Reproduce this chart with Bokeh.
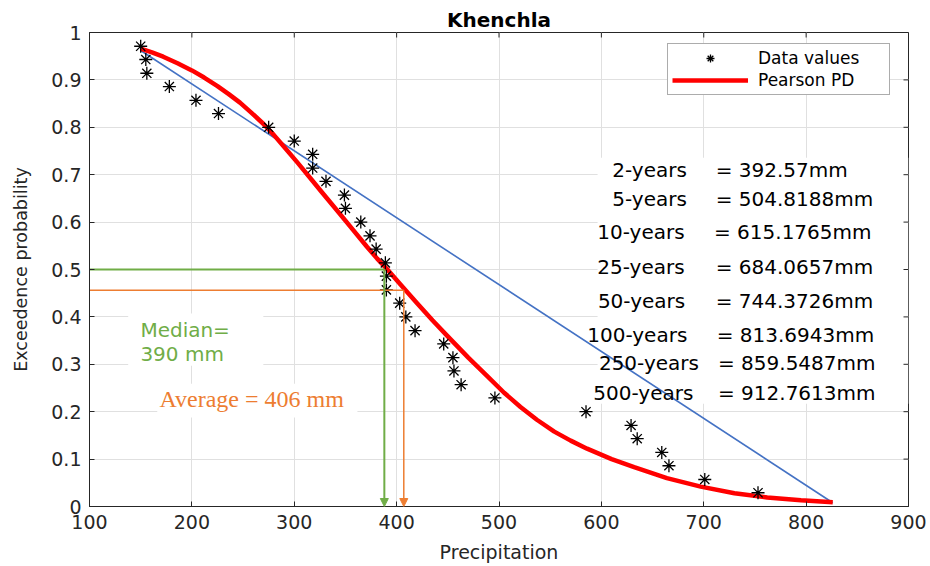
from bokeh.plotting import figure
from bokeh.models import (Label, Legend, LegendItem, FixedTicker,
                          CustomJSTickFormatter, Arrow, NormalHead, BoxAnnotation, Range1d)
from bokeh.embed import file_html
from bokeh.resources import INLINE

# ---------------- data ----------------
precip = [150, 155, 156, 178, 204, 226, 275, 300, 318, 318, 331, 349, 350, 365,
          374, 380, 389, 390, 390, 403, 409, 418, 446, 455, 456, 463, 496, 585,
          629, 635, 659, 666, 701, 753]
exceed = [0.971, 0.943, 0.914, 0.886, 0.857, 0.829, 0.800, 0.771, 0.743, 0.714,
          0.686, 0.657, 0.629, 0.600, 0.571, 0.543, 0.514, 0.486, 0.457, 0.429,
          0.400, 0.371, 0.343, 0.314, 0.286, 0.257, 0.229, 0.200, 0.171, 0.143,
          0.114, 0.086, 0.057, 0.029]

pearson_x = [150, 161, 172, 186, 200, 212, 225, 236, 247, 258, 270, 280, 290, 303,
             316, 327, 339, 355, 371, 381, 391, 404, 420, 435, 449, 470, 489, 505,
             521, 537, 554, 570, 586, 610, 632, 664, 697, 730, 762, 795, 826]
pearson_p = [0.966, 0.958, 0.949, 0.935, 0.920, 0.905, 0.887, 0.870, 0.852, 0.831,
             0.807, 0.784, 0.759, 0.726, 0.692, 0.663, 0.632, 0.590, 0.548, 0.523,
             0.500, 0.468, 0.429, 0.393, 0.361, 0.314, 0.274, 0.240, 0.210, 0.183,
             0.158, 0.139, 0.122, 0.100, 0.083, 0.060, 0.042, 0.028, 0.019, 0.013,
             0.009]

trend_x = [150, 826]
trend_p = [0.962, 0.008]

median_x, median_p = 388, 0.5
average_x, average_p = 407, 0.456

x_ticks = [100, 200, 300, 400, 500, 600, 700, 800, 900]
y_ticks = [0, 0.1, 0.2, 0.3, 0.4, 0.5, 0.6, 0.7, 0.8, 0.9, 1]

return_names = ["2-years", "5-years", "10-years", "25-years", "50-years",
                "100-years", "250-years", "500-years"]
return_values = ["= 392.57mm", "= 504.8188mm", "= 615.1765mm", "= 684.0657mm",
                 "= 744.3726mm", "= 813.6943mm", "= 859.5487mm", "= 912.7613mm"]

# ---------------- layout / styles ----------------
name_left = [610.6, 610.6, 596.0, 596.0, 596.6, 586.2, 597.6, 592.1]
value_left = [711.6, 711.6, 710.0, 711.6, 711.6, 712.6, 713.9, 713.9]
row_y = [0.709, 0.649, 0.579, 0.505, 0.4325, 0.362, 0.302, 0.239]

DARK = "#262626"
GREEN = "#70AD47"
ORANGE = "#ED7D31"
BLUE = "#4472C4"
FONT = "DejaVu Sans"

p = figure(width=930, height=566, x_range=Range1d(100, 900), y_range=Range1d(0, 1),
           output_backend="svg", toolbar_location=None,
           min_border_left=89, min_border_right=22, min_border_top=32, min_border_bottom=60,
           background_fill_color="white", border_fill_color="white")
p.outline_line_color = DARK

p.title.text = "Khenchla"
p.title.align = "center"
p.title.text_font = FONT
p.title.text_font_size = "20px"
p.title.text_font_style = "bold"
p.title.text_color = "black"
p.title.standoff = 2

# axes
for ax in (p.xaxis[0], p.yaxis[0]):
    ax.major_tick_in = 5
    ax.major_tick_out = 0
    ax.minor_tick_line_color = None
    ax.axis_line_color = DARK
    ax.major_tick_line_color = DARK
    ax.major_label_text_font = FONT
    ax.major_label_text_font_size = "19px"
    ax.major_label_text_color = DARK
    ax.axis_label_text_font = FONT
    ax.axis_label_text_font_style = "normal"
    ax.axis_label_text_color = DARK

p.xaxis.ticker = FixedTicker(ticks=x_ticks)
p.xaxis.axis_label = "Precipitation"
p.xaxis.axis_label_text_font_size = "19px"
p.xaxis.major_label_standoff = 8
p.xaxis.axis_label_standoff = 9

p.yaxis.ticker = FixedTicker(ticks=y_ticks)
p.yaxis.formatter = CustomJSTickFormatter(code="return String(Math.round(tick*10)/10)")
p.yaxis.axis_label = "Exceedence probability"
p.yaxis.axis_label_text_font_size = "17.5px"
p.yaxis.major_label_standoff = 8
p.yaxis.axis_label_standoff = 17

p.xgrid.ticker = FixedTicker(ticks=x_ticks)
p.ygrid.ticker = FixedTicker(ticks=y_ticks)
for g in (p.xgrid[0], p.ygrid[0]):
    g.grid_line_color = "#e0e0e0"
    g.grid_line_width = 1

# inward ticks on the top and right edges of the box
tick_len_y = 5 / 474
tick_len_x = 5 * 800 / 819
p.segment(x0=x_ticks, y0=[1] * len(x_ticks), x1=x_ticks, y1=[1 - tick_len_y] * len(x_ticks),
          line_color=DARK, line_width=1)
p.segment(x0=[900] * len(y_ticks), y0=y_ticks, x1=[900 - tick_len_x] * len(y_ticks), y1=y_ticks,
          line_color=DARK, line_width=1)

# white backgrounds behind the text blocks (cover the grid only)
for (l, r, b, t) in [(137.8, 269.8, 0.297, 0.407), (166.2, 361.7, 0.188, 0.259),
                     (596.3, 900, 0.217, 0.736)]:
    p.add_layout(BoxAnnotation(left=l, right=r, bottom=b, top=t, fill_color="white",
                               fill_alpha=1, line_color=None, level="underlay"))

# lines and points
p.line(trend_x, trend_p, line_color=BLUE, line_width=1.6)
red = p.line(pearson_x, pearson_p, line_color="#ff0000", line_width=4.5, line_join="round")
pts = p.scatter(precip, exceed, marker="asterisk", size=13, line_color="black",
                line_width=1.3)

# median / average guides
p.line([100, median_x], [median_p, median_p], line_color=GREEN, line_width=2)
p.line([100, average_x], [average_p, average_p], line_color=ORANGE, line_width=1.5)
p.add_layout(Arrow(end=NormalHead(size=8, fill_color=GREEN, line_color=GREEN),
                   x_start=median_x, y_start=median_p, x_end=median_x, y_end=0,
                   line_color=GREEN, line_width=2))
p.add_layout(Arrow(end=NormalHead(size=8, fill_color=ORANGE, line_color=ORANGE),
                   x_start=average_x, y_start=average_p, x_end=average_x, y_end=0,
                   line_color=ORANGE, line_width=1.5))

# text annotations
p.add_layout(Label(x=149.7, y=0.3726, text="Median=", text_font=FONT, text_font_size="20px",
                   text_color=GREEN, text_baseline="middle", text_align="left"))
p.add_layout(Label(x=149.7, y=0.3207, text="390 mm", text_font=FONT, text_font_size="20px",
                   text_color=GREEN, text_baseline="middle", text_align="left"))
p.add_layout(Label(x=168.4, y=0.2278, text="Average = 406 mm", text_font="Liberation Serif",
                   text_font_size="24px", text_color=ORANGE, text_baseline="middle",
                   text_align="left"))

for name, val, xl, xv, yy in zip(return_names, return_values, name_left, value_left, row_y):
    p.add_layout(Label(x=xl, y=yy, text=name, text_font=FONT, text_font_size="20px",
                       text_color="black", text_baseline="middle", text_align="left"))
    p.add_layout(Label(x=xv, y=yy, text=val, text_font=FONT, text_font_size="20px",
                       text_color="black", text_baseline="middle", text_align="left"))

legend = Legend(items=[LegendItem(label="Data values", renderers=[pts]),
                       LegendItem(label="Pearson PD", renderers=[red])],
                location=(578, 411), margin=0, padding=4, spacing=2,
                glyph_width=76, glyph_height=20, label_height=20, label_width=127,
                label_standoff=10, label_text_font=FONT, label_text_font_size="17px",
                label_text_color="black", border_line_color="#595959", border_line_width=1,
                background_fill_color="white", background_fill_alpha=1)
p.add_layout(legend)

open("out.html", "w").write(file_html(p, INLINE))
